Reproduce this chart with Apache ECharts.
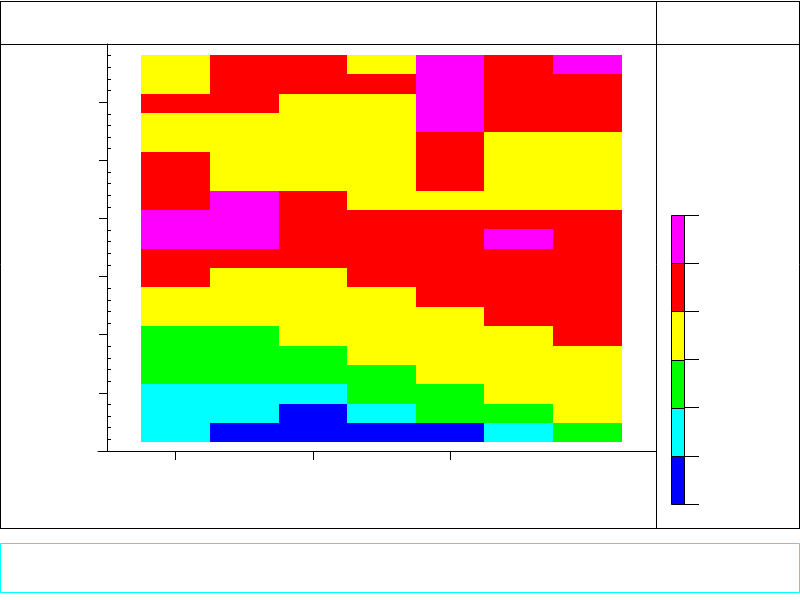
<!DOCTYPE html>
<html>
<head>
<meta charset="utf-8">
<script src="https://cdn.jsdelivr.net/npm/echarts@6/dist/echarts.min.js"></script>
<style>html,body{margin:0;padding:0;background:#fff;}#c{width:800px;height:600px;}</style>
</head>
<body>
<div id="c"></div>
<script>
// column positions (x) and row positions (y)
const xValues = [0, 1, 2, 3, 4, 5, 6];
const yValues = [0, 1, 2, 3, 4, 5, 6, 7, 8, 9, 10, 11, 12, 13, 14, 15, 16, 17, 18, 19];
// level of each cell, one array per row, bottom row first
const levelRows = [
  [1, 0, 0, 0, 0, 1, 2],
  [1, 1, 0, 1, 2, 2, 3],
  [1, 1, 1, 2, 2, 3, 3],
  [2, 2, 2, 2, 3, 3, 3],
  [2, 2, 2, 3, 3, 3, 3],
  [2, 2, 3, 3, 3, 3, 4],
  [3, 3, 3, 3, 3, 4, 4],
  [3, 3, 3, 3, 4, 4, 4],
  [4, 3, 3, 4, 4, 4, 4],
  [4, 4, 4, 4, 4, 4, 4],
  [5, 5, 4, 4, 4, 5, 4],
  [5, 5, 4, 4, 4, 4, 4],
  [4, 5, 4, 3, 3, 3, 3],
  [4, 3, 3, 3, 4, 3, 3],
  [4, 3, 3, 3, 4, 3, 3],
  [3, 3, 3, 3, 4, 3, 3],
  [3, 3, 3, 3, 5, 4, 4],
  [4, 4, 3, 3, 5, 4, 4],
  [3, 4, 4, 4, 5, 4, 4],
  [3, 4, 4, 3, 5, 4, 5]
];
const levelColors = ['#0000ff', '#00ffff', '#00ff00', '#ffff00', '#ff0000', '#ff00ff'];
const colorbarLevels = [0, 1, 2, 3, 4, 5];
const xTickValues = [0, 2, 4];

const cellData = [];
yValues.forEach((y, r) => {
  xValues.forEach((x, c) => {
    cellData.push([x, y, levelRows[r][c]]);
  });
});

const chart = echarts.init(document.getElementById('c'), null, {renderer: 'canvas'});
const black = '#000';

const option = {
  backgroundColor: '#fff',
  animation: false,
  grid: [
    {left: 98, right: 144, top: 44, bottom: 149, outerBoundsMode: 'none', containLabel: false},
    {left: 671, width: 13, top: 215, height: 289, outerBoundsMode: 'none', containLabel: false}
  ],
  xAxis: [
    {
      gridIndex: 0, type: 'value', min: -1.13, max: 7,
      axisLine: {show: true, onZero: false, lineStyle: {color: black, width: 1}},
      axisTick: {show: true, length: 9, customValues: xTickValues, lineStyle: {color: black, width: 1}},
      axisLabel: {show: false},
      splitLine: {show: false}
    },
    {
      gridIndex: 1, type: 'category', data: [''],
      axisLine: {show: false}, axisTick: {show: false}, axisLabel: {show: false}, splitLine: {show: false}
    }
  ],
  yAxis: [
    {
      gridIndex: 0, type: 'value', min: -0.94, max: 20.06, interval: 3, position: 'left', offset: -9,
      axisLine: {show: true, onZero: false, lineStyle: {color: black, width: 1}},
      axisTick: {show: true, length: 8, lineStyle: {color: black, width: 1}},
      axisLabel: {show: false},
      splitLine: {show: false}
    },
    {
      gridIndex: 0, type: 'value', min: -0.94, max: 20.06, interval: 3, position: 'left', offset: -9,
      axisLine: {show: false, onZero: false},
      axisTick: {show: false, inside: true},
      minorTick: {show: true, splitNumber: 5, length: 4, lineStyle: {color: black, width: 1}},
      axisLabel: {show: false},
      splitLine: {show: false},
      minorSplitLine: {show: false}
    },
    {
      gridIndex: 1, type: 'value', min: 0, max: 6, interval: 1, position: 'right',
      axisLine: {show: false},
      axisTick: {show: true, length: 15, lineStyle: {color: black, width: 1}},
      axisLabel: {show: false},
      splitLine: {show: false}
    }
  ],
  series: [
    {
      type: 'custom',
      xAxisIndex: 0, yAxisIndex: 0,
      data: cellData,
      renderItem: function (params, api) {
        const x = api.value(0), y = api.value(1), lv = api.value(2);
        const p0 = api.coord([x - 0.5, y + 0.5]);
        const p1 = api.coord([x + 0.5, y - 0.5]);
        const x0 = Math.round(p0[0]), y0 = Math.round(p0[1]);
        const x1 = Math.round(p1[0]), y1 = Math.round(p1[1]);
        return {
          type: 'rect',
          shape: {x: x0, y: y0, width: x1 - x0, height: y1 - y0},
          style: {fill: levelColors[lv]}
        };
      }
    },
    {
      type: 'custom',
      xAxisIndex: 1, yAxisIndex: 2,
      data: colorbarLevels.map(l => [0, l]),
      renderItem: function (params, api) {
        const lv = api.value(1);
        const pb = api.coord([0, lv]);
        const pt = api.coord([0, lv + 1]);
        const w = api.size([1, 0])[0];
        const x0 = Math.round(pb[0] - w / 2) + 0.5;
        const yTop = Math.round(pt[1]) + 0.5;
        const yBot = Math.round(pb[1]) + 0.5;
        return {
          type: 'rect',
          shape: {x: x0, y: yTop, width: Math.round(w), height: yBot - yTop},
          style: {fill: levelColors[lv], stroke: black, lineWidth: 1}
        };
      }
    }
  ],
  graphic: [
    {type: 'line', silent: true, shape: {x1: 0, y1: 1.5, x2: 800, y2: 1.5}, style: {stroke: black, lineWidth: 1}},
    {type: 'line', silent: true, shape: {x1: 0.5, y1: 1, x2: 0.5, y2: 528.5}, style: {stroke: black, lineWidth: 1}},
    {type: 'line', silent: true, shape: {x1: 799.5, y1: 1, x2: 799.5, y2: 528.5}, style: {stroke: black, lineWidth: 1}},
    {type: 'line', silent: true, shape: {x1: 0, y1: 528.5, x2: 800, y2: 528.5}, style: {stroke: black, lineWidth: 1}},
    {type: 'line', silent: true, shape: {x1: 0, y1: 44.5, x2: 800, y2: 44.5}, style: {stroke: black, lineWidth: 1}},
    {type: 'line', silent: true, shape: {x1: 656.5, y1: 1, x2: 656.5, y2: 528.5}, style: {stroke: black, lineWidth: 1}},
    {type: 'rect', silent: true, shape: {x: 0.5, y: 543.5, width: 799, height: 49}, style: {fill: 'none', stroke: '#00ffff', lineWidth: 1}}
  ]
};
chart.setOption(option);
</script>
</body>
</html>
